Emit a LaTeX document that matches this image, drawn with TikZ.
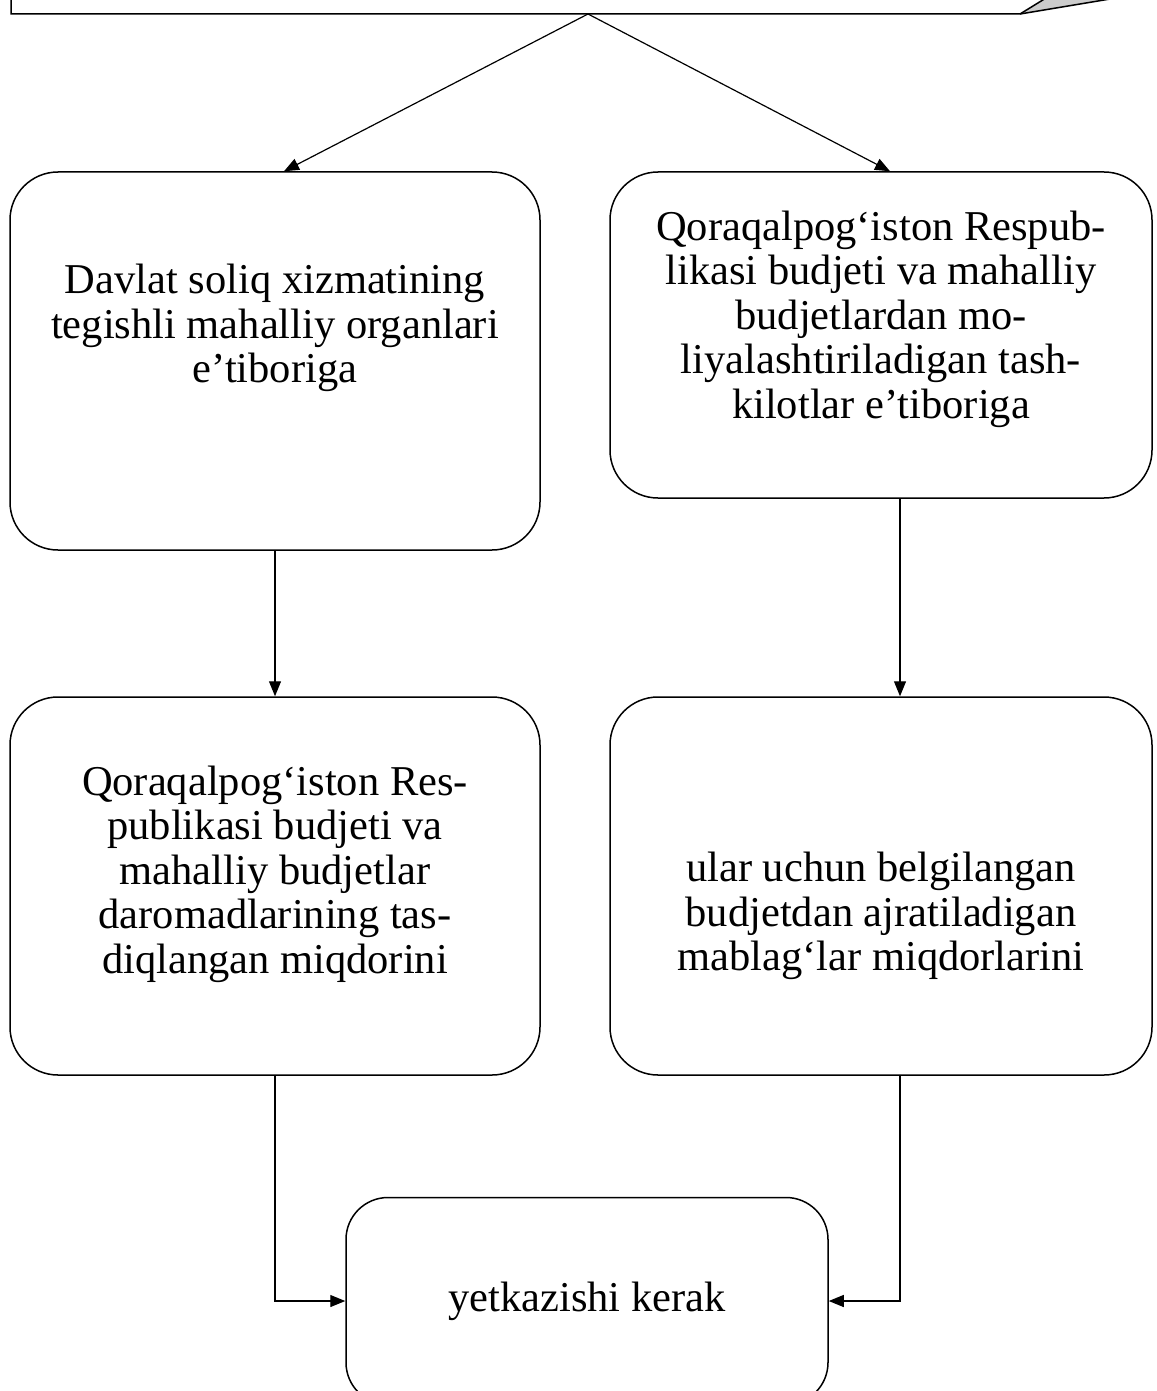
\documentclass[tikz,border=0pt]{standalone}
\usepackage{fontspec}
\setmainfont{Liberation Serif}
\usetikzlibrary{positioning,arrows.meta}

\begin{document}
\begin{tikzpicture}[x=1pt, y=-1pt,
  box/.style={draw, line width=1.5pt, rounded corners=48pt, inner sep=0pt},
  txt/.style={align=center, inner sep=0pt, font=\fontsize{42.5}{44.5}\selectfont},
  >={Triangle[length=15pt,width=12pt]}, line width=1.2pt]
\clip (0,0) rectangle (1156,1391);
% cut-off box at the top
\fill[black!20] (1020,14) -- (1116,-2) -- (1046,-2) -- cycle;
\draw[line width=1.5pt] (11,-2) |- (1020,14) -- (1046,-2);
\draw[line width=1.5pt] (1020,14) -- (1116,-2);
\coordinate (top) at (588,14);
% boxes
\node[box, minimum width=530pt, minimum height=378pt] (A) at (275,361) {};
\node[box, minimum width=542pt, minimum height=326pt] (B) at (881,335) {};
\node[box, minimum width=530pt, minimum height=378pt] (C) at (275,886) {};
\node[box, minimum width=542pt, minimum height=378pt] (D) at (881,886) {};
\node[box, rounded corners=42pt, minimum width=482pt, minimum height=207pt] (E) at (587,1301) {};
% texts
\node[txt] (At) at ([yshift=33pt]A.center) {Davlat soliq xizmatining\\tegishli mahalliy organlari\\e’tiboriga};
\node[txt] (Bt) at ([yshift=16pt]B.center) {Qoraqalpog‘iston Respub-\\likasi budjeti va mahalliy\\budjetlardan mo-\\liyalashtiriladigan tash-\\kilotlar e’tiboriga};
\node[txt] (Ct) at ([yshift=12pt]C.center) {Qoraqalpog‘iston Res-\\publikasi budjeti va\\mahalliy budjetlar\\daromadlarining tas-\\diqlangan miqdorini};
\node[txt] (Dt) at ([yshift=-30pt]D.center) {ular uchun belgilangan\\budjetdan ajratiladigan\\mablag‘lar miqdorlarini};
\node[txt] (Et) at (E.center) {yetkazishi kerak};
% connectors
\draw[->] (top) -- ([xshift=9pt]A.north);
\draw[->] (top) -- ([xshift=9pt]B.north);
\draw[->] (A.south) -- (C.north);
\draw[->] ([xshift=19pt]B.south) -- ([xshift=19pt]D.north);
\draw[->] (C.south) |- (E.west);
\draw[->] ([xshift=19pt]D.south) |- (E.east);
\end{tikzpicture}
\end{document}
